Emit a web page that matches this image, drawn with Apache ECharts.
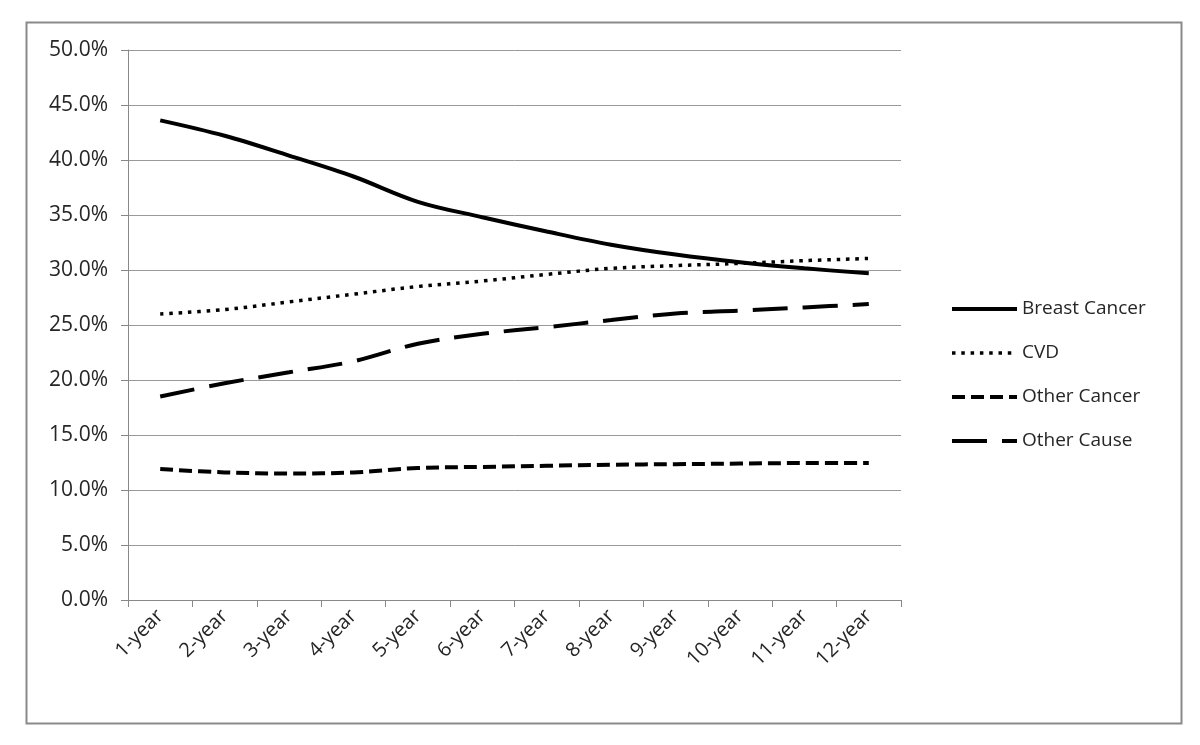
<!DOCTYPE html>
<html>
<head>
<meta charset="utf-8">
<script src="https://cdn.jsdelivr.net/npm/echarts@6/dist/echarts.min.js"></script>
<style>
html,body{margin:0;padding:0;background:#fff;}
#chart{width:1200px;height:745px;}
</style>
</head>
<body>
<div id="chart"></div>
<script>
const categories = ['1-year','2-year','3-year','4-year','5-year','6-year','7-year','8-year','9-year','10-year','11-year','12-year'];
const breastCancer = [43.6, 42.2, 40.4, 38.5, 36.2, 34.8, 33.5, 32.3, 31.4, 30.7, 30.15, 29.7];
const cvd          = [26.0, 26.4, 27.1, 27.8, 28.5, 29.0, 29.6, 30.15, 30.4, 30.6, 30.85, 31.05];
const otherCancer  = [11.9, 11.6, 11.5, 11.6, 12.0, 12.1, 12.2, 12.3, 12.35, 12.4, 12.45, 12.45];
const otherCause   = [18.5, 19.7, 20.7, 21.7, 23.3, 24.2, 24.8, 25.45, 26.05, 26.3, 26.6, 26.9];
const yTicks = [0, 50, 5]; // min, max, interval (percent)

const font = '"Open Sans", "Noto Sans", sans-serif';
const textColor = '#262626';

const chart = echarts.init(document.getElementById('chart'), null, {renderer: 'canvas'});
const mk = (name, data, type, width) => ({
  name, type: 'line', data, smooth: 0.35, symbol: 'none',
  lineStyle: {color: '#000', width: width, type: type, cap: 'butt'},
  itemStyle: {color: '#000'}
});
chart.setOption({
  animation: false,
  backgroundColor: '#fff',
  graphic: [{
    type: 'rect', left: 24, top: 20,
    shape: {width: 1155, height: 701},
    style: {fill: 'none', stroke: '#8a8a8a', lineWidth: 2}
  }],
  grid: {left: 128, right: 299, top: 50, bottom: 145, containLabel: false},
  legend: {
    orient: 'vertical', left: 945, top: 294,
    itemWidth: 65, itemHeight: 14, itemGap: 24,
    itemStyle: {color: 'rgba(0,0,0,0)', borderWidth: 0, opacity: 0},
    lineStyle: {width: 'inherit'},
    textStyle: {fontFamily: font, fontSize: 19, color: textColor, lineHeight: 20},
    data: ['Breast Cancer', 'CVD', 'Other Cancer', 'Other Cause']
  },
  xAxis: {
    type: 'category', data: categories, boundaryGap: true,
    axisLine: {show: true, lineStyle: {color: '#888', width: 1}},
    axisTick: {show: true, length: 7, alignWithLabel: false, lineStyle: {color: '#888'}},
    axisLabel: {rotate: 45, margin: 13, fontFamily: font, fontSize: 20, color: textColor, interval: 0},
    splitLine: {show: false}
  },
  yAxis: {
    type: 'value', min: yTicks[0], max: yTicks[1], interval: yTicks[2],
    axisLine: {show: true, lineStyle: {color: '#888', width: 1}},
    axisTick: {show: true, length: 7, lineStyle: {color: '#888'}},
    axisLabel: {margin: 20, fontFamily: font, fontSize: 21, color: textColor,
      formatter: v => v.toFixed(1) + '%'},
    splitLine: {show: true, lineStyle: {color: '#999', width: 1}}
  },
  series: [
    mk('Breast Cancer', breastCancer, 'solid', 4),
    mk('CVD', cvd, [3.5, 5.8], 3.5),
    mk('Other Cancer', otherCancer, [13, 6], 4),
    mk('Other Cause', otherCause, [35, 15], 4)
  ]
});
</script>
</body>
</html>
